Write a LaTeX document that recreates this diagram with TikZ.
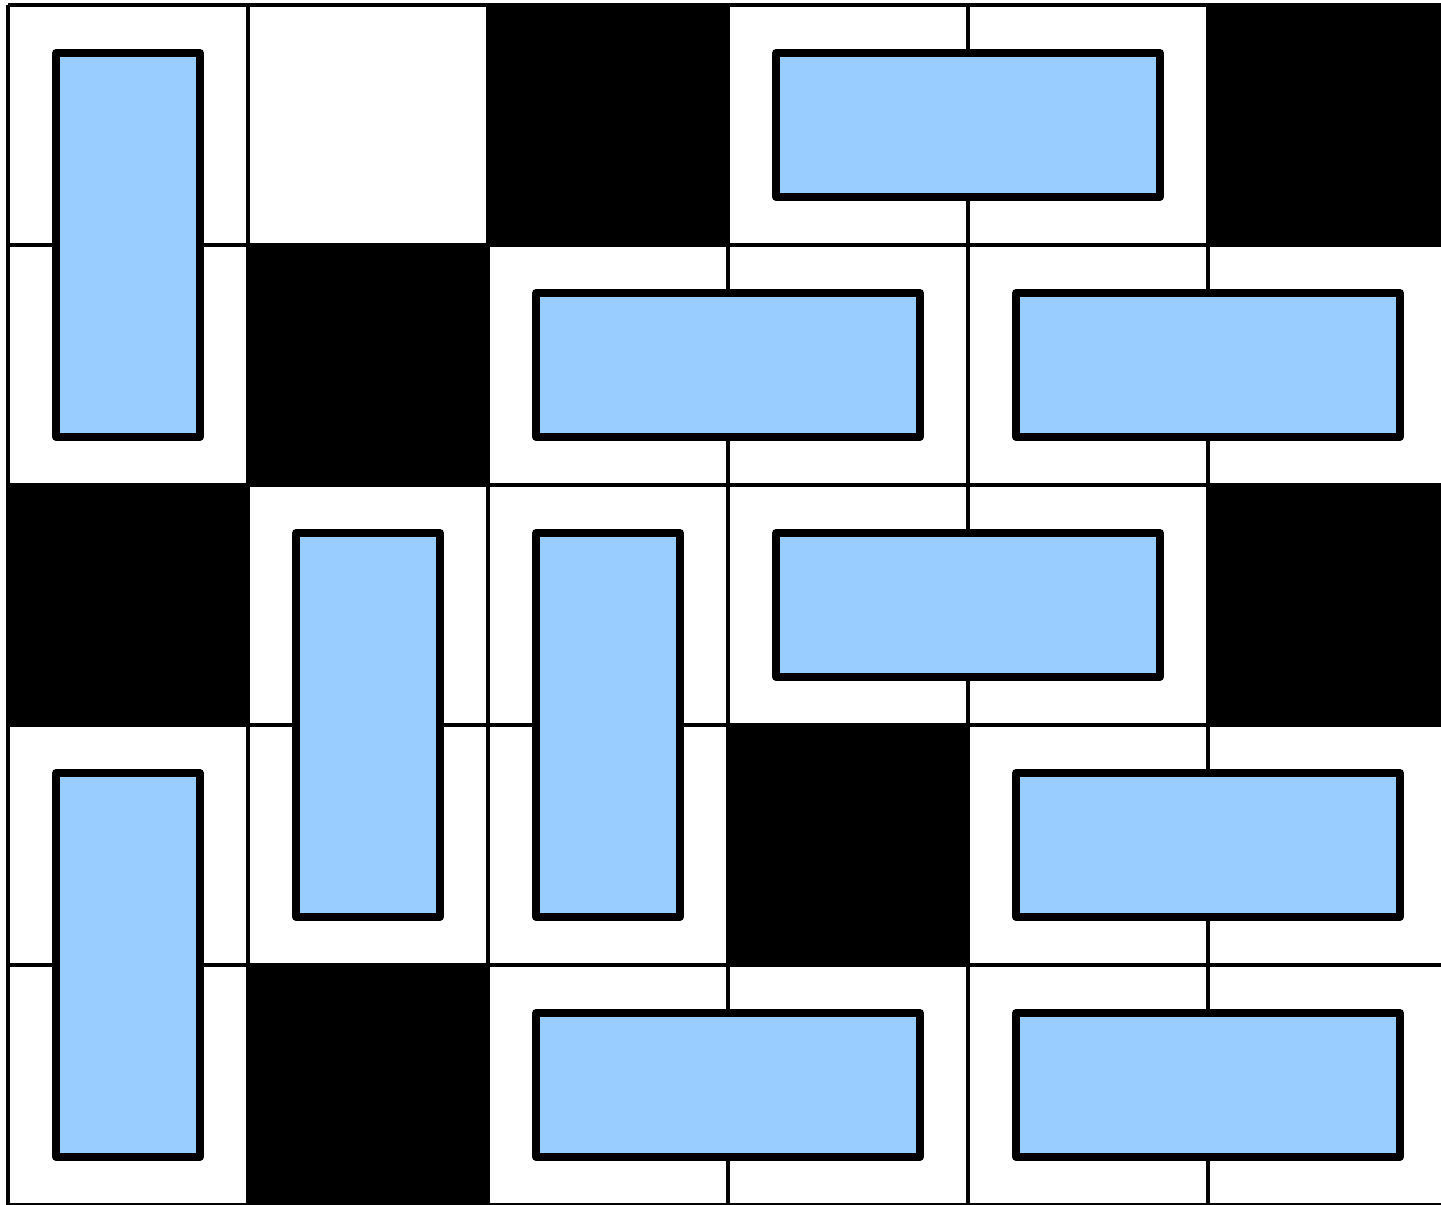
\documentclass[tikz,border=0pt]{standalone}
\usepackage{tikz}
\definecolor{dominoblue}{RGB}{153,204,255}
\begin{document}
\begin{tikzpicture}[x=2cm, y=-2cm,
	gridline/.style={draw=black, line width=0.78pt},
	blackcell/.style={fill=black},
	domino/.style={draw=black, fill=dominoblue, line width=1.78pt, line join=round}]
	\useasboundingbox (-0.0333, -0.0208) rectangle (5.9708, 4.9958);
	% board
	\foreach \c in {0,...,6} \draw[gridline] (\c, 0) -- (\c, 5);
	\foreach \r in {0,...,5} \draw[gridline] (0, \r) -- (6, \r);
	% blocked squares
	\foreach \c/\r in {2/0, 5/0, 1/1, 0/2, 5/2, 3/3, 1/4}
		\fill[blackcell] (\c, \r) rectangle (\c+1, \r+1);
	% vertical dominoes
	\foreach \c/\r in {0/0, 1/2, 2/2, 0/3}
		\draw[domino] (\c+0.2, \r+0.2) rectangle (\c+0.8, \r+1.8);
	% horizontal dominoes
	\foreach \c/\r in {3/0, 2/1, 4/1, 3/2, 4/3, 2/4, 4/4}
		\draw[domino] (\c+0.2, \r+0.2) rectangle (\c+1.8, \r+0.8);
\end{tikzpicture}
\end{document}
